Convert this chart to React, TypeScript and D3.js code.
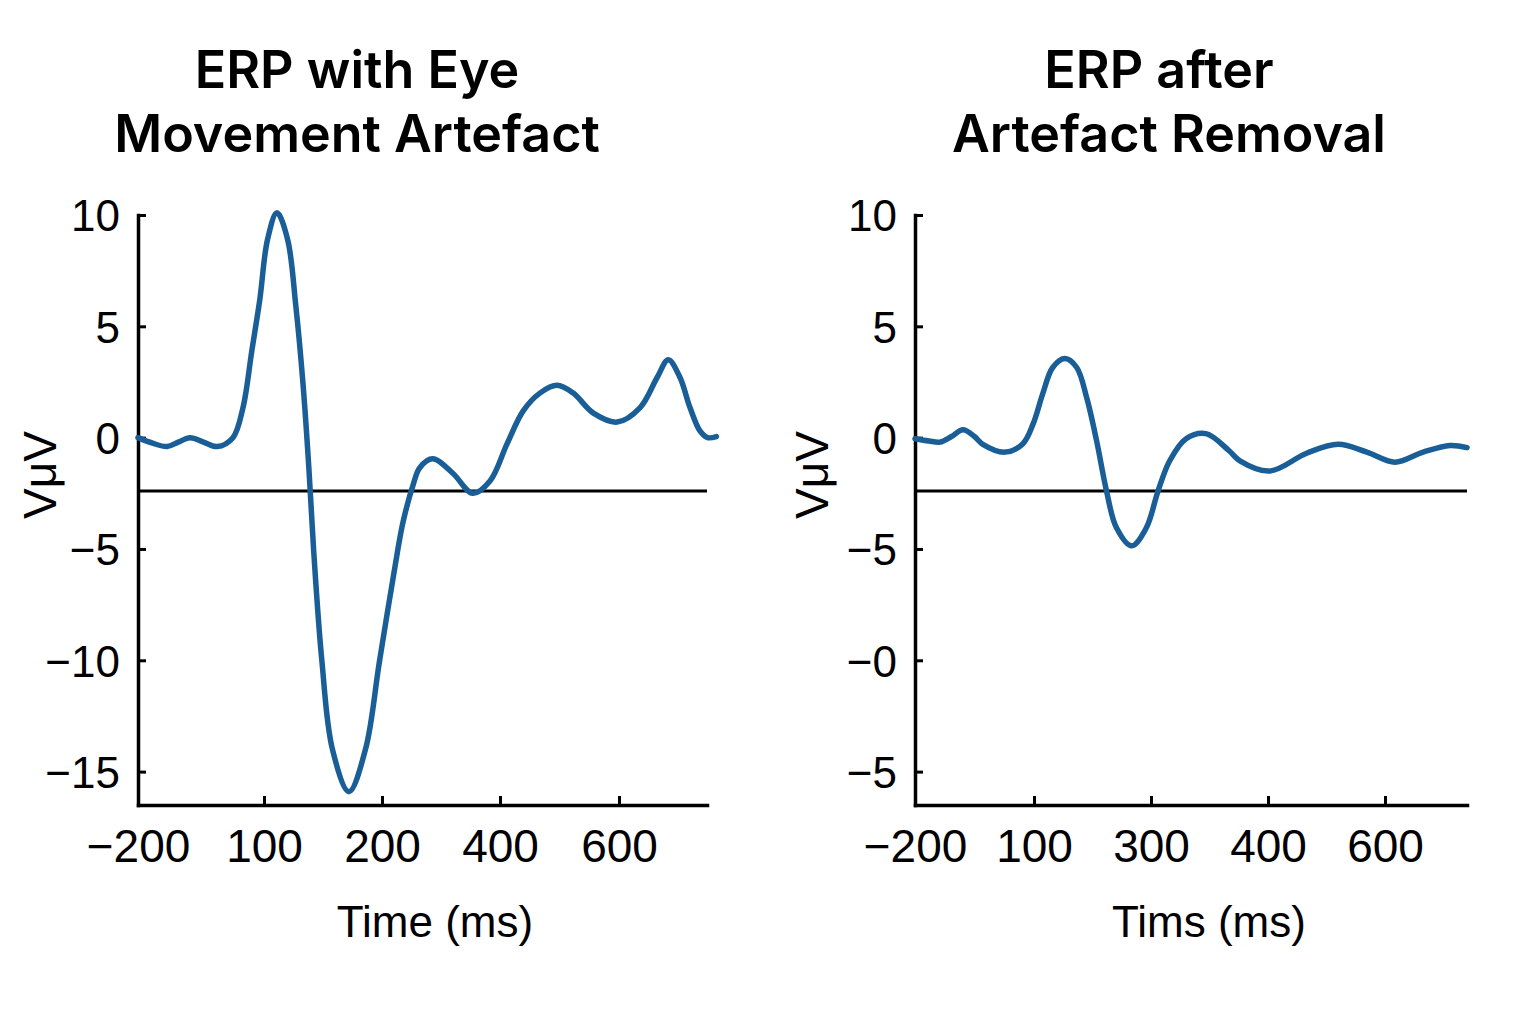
import { useEffect, useRef } from 'react';
import * as d3 from 'd3';

// ERP with eye-movement artefact (time in ms, amplitude in µV)
const rawTime = [-200, -165, -131, -104, -76, -44, -12, 26, 50, 71, 90, 103, 111, 120, 127, 133, 138, 142, 149, 158, 172, 186, 198, 227, 236, 253, 264, 286, 320, 354, 383, 412, 439, 467, 496, 523, 557, 597, 636, 665, 684, 704, 721, 738, 751, 766];
const rawVolt = [0.0, -0.25, -0.4, -0.2, 0.0, -0.2, -0.4, 0.0, 1.35, 3.9, 6.2, 8.9, 10.1, 8.9, 5.9, 2.45, -1.35, -5, -10, -14, -15.9, -14, -10, -5, -3.75, -2.1, -1.35, -0.95, -1.6, -2.5, -1.95, -0.27, 1.2, 2.0, 2.35, 2.0, 1.1, 0.7, 1.35, 2.7, 3.5, 2.7, 1.35, 0.3, 0.0, 0.05];

// ERP after artefact removal
const cleanTime = [-200, -165, -137, -108, -79, -50, -29, 27, 72, 98, 115, 132, 153, 173, 190, 207, 224, 241, 267, 292, 306, 316, 330, 347, 367, 376, 403, 466, 520, 569, 617, 665, 711, 740];
const cleanVolt = [-0.05, -0.15, -0.2, 0.05, 0.35, 0.05, -0.3, -0.65, -0.27, 0.63, 1.98, 3.15, 3.55, 3.15, 1.8, -0.14, -2.4, -4.05, -4.86, -4.05, -2.4, -1.04, -0.05, 0.18, -0.6, -1.04, -1.5, -0.7, -0.3, -0.65, -1.1, -0.65, -0.35, -0.45];

const yTickValues = [10, 5, 0, -5, -10, -15];
const yTickLabelsLeft = ['10', '5', '0', '\u22125', '\u221210', '\u221215'];
const yTickLabelsRight = ['10', '5', '0', '\u22125', '\u22120', '\u22125'];

const xTicksLeft = [-200, 100, 200, 400, 600];
const xTicksRight = [-200, 100, 300, 400, 600];

const baselineValue = -2.4;

const titlesLeft = ['ERP with Eye', 'Movement Artefact'];
const titlesRight = ['ERP after', 'Artefact Removal'];

const FONT = "'Liberation Sans', Arial, sans-serif";
const TITLE_FONT = "Inter, 'Noto Sans', sans-serif";
const LINE_COLOR = '#1a5e97';

interface PanelCfg {
  time: number[];
  volt: number[];
  xTicks: number[];
  xEnd: number;
  xRange: number[];
  yLabels: string[];
  titles: string[];
  titleX: number[];
  xLabel: string;
  xLabelX: number;
  yLabelX: number;
}

export default function App() {
  const svgRef = useRef<SVGSVGElement>(null);

  useEffect(() => {
    if (!svgRef.current) return;
    const svg = d3.select(svgRef.current);
    svg.selectAll('*').remove();

    const y = d3.scaleLinear().domain([10, -16.5]).range([215, 805]);

    const panels: PanelCfg[] = [
      {
        time: rawTime, volt: rawVolt, xTicks: xTicksLeft, xEnd: 750,
        xRange: [138, 264, 382, 500, 619, 707],
        yLabels: yTickLabelsLeft, titles: titlesLeft, titleX: [357, 357],
        xLabel: 'Time (ms)', xLabelX: 435, yLabelX: 56,
      },
      {
        time: cleanTime, volt: cleanVolt, xTicks: xTicksRight, xEnd: 740,
        xRange: [915, 1034, 1151, 1268, 1385, 1467],
        yLabels: yTickLabelsRight, titles: titlesRight, titleX: [1159, 1169],
        xLabel: 'Tims (ms)', xLabelX: 1209, yLabelX: 828,
      },
    ];

    panels.forEach(p => {
      const x = d3.scaleLinear().domain([...p.xTicks, p.xEnd]).range(p.xRange);
      const g = svg.append('g');

      // titles
      p.titles.forEach((t, i) => {
        g.append('text')
          .attr('x', p.titleX[i])
          .attr('y', 88 + i * 64)
          .attr('text-anchor', 'middle')
          .style('font-family', TITLE_FONT)
          .style('font-weight', '600')
          .style('font-size', '52px')
          .text(t);
      });

      // baseline reference line
      g.append('line')
        .attr('x1', x(p.xTicks[0]))
        .attr('x2', x(p.xEnd))
        .attr('y1', y(baselineValue))
        .attr('y2', y(baselineValue))
        .attr('stroke', '#000')
        .attr('stroke-width', 3);

      // y axis
      const yAxis = g.append('g')
        .attr('transform', `translate(${x(p.xTicks[0])},0)`)
        .call(d3.axisLeft(y)
          .tickValues(yTickValues)
          .tickSizeInner(-8)
          .tickSizeOuter(0)
          .tickPadding(18)
          .tickFormat((_d, i) => p.yLabels[i]));

      // x axis
      const xAxis = g.append('g')
        .attr('transform', `translate(0,${y(-16.5)})`)
        .call(d3.axisBottom(x)
          .tickValues(p.xTicks)
          .tickSizeInner(-9)
          .tickSizeOuter(0)
          .tickPadding(24)
          .tickFormat(d => d3.format('')(d as number).replace('-', '\u2212')));

      [yAxis, xAxis].forEach(a => {
        a.select('.domain').attr('stroke', '#000').attr('stroke-width', 3.5).attr('stroke-linecap', 'square');
        a.selectAll('.tick line').attr('stroke', '#000').attr('stroke-width', 3);
        a.selectAll('.tick text')
          .attr('fill', '#000')
          .style('font-family', FONT)
          .style('font-size', '44px');
      });
      yAxis.selectAll('.tick text').attr('dy', '0.36em');
      xAxis.selectAll('.tick text').attr('dy', '0.71em').style('font-size', '46px');
      xAxis.selectAll('.tick').filter((_d, i) => i === 0).select('line').remove();

      // axis titles
      g.append('text')
        .attr('x', p.xLabelX)
        .attr('y', 937)
        .attr('text-anchor', 'middle')
        .style('font-family', FONT)
        .style('font-size', '44px')
        .text(p.xLabel);

      g.append('text')
        .attr('transform', `translate(${p.yLabelX},475) rotate(-90)`)
        .attr('text-anchor', 'middle')
        .style('font-family', FONT)
        .style('font-size', '46px')
        .text('V\u03bcV');

      // waveform
      const pts = p.time.map((t, i) => [t, p.volt[i]] as [number, number]);
      const line = d3.line<[number, number]>()
        .x(d => x(d[0]))
        .y(d => y(d[1]))
        .curve(d3.curveCatmullRom.alpha(0.5));

      g.append('path')
        .datum(pts)
        .attr('d', line)
        .attr('fill', 'none')
        .attr('stroke', LINE_COLOR)
        .attr('stroke-width', 5.5)
        .attr('stroke-linecap', 'round')
        .attr('stroke-linejoin', 'round');
    });
  }, []);

  return (
    <svg
      ref={svgRef}
      width={1536}
      height={1024}
      style={{ position: 'absolute', left: 0, top: 0, background: '#fff' }}
    />
  );
}
